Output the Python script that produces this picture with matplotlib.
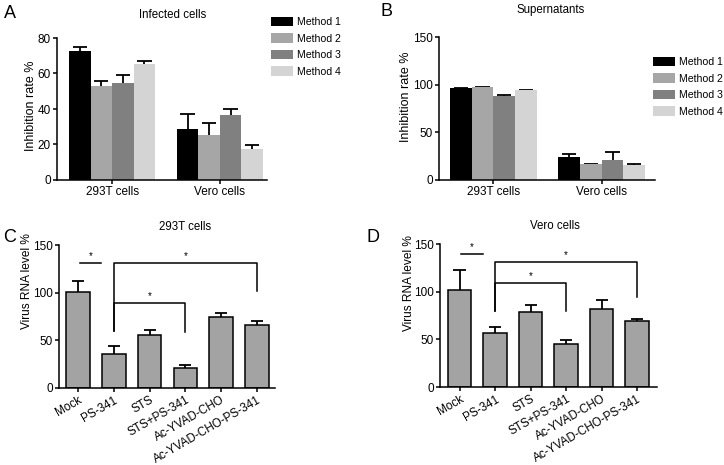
import matplotlib
matplotlib.use("Agg")
import matplotlib.pyplot as plt
from matplotlib.transforms import ScaledTranslation
import numpy as np

plt.rcParams['font.family'] = ['Liberation Sans', 'DejaVu Sans']

# ---------------- data ----------------
groups = ["293T cells", "Vero cells"]
methods = ["Method 1", "Method 2", "Method 3", "Method 4"]
method_colors = ["#000000", "#a6a6a6", "#808080", "#d4d4d4"]

# Panel A: infected cells, mean and upper error (per method, [293T, Vero])
a_mean = [[72.8, 28.7], [53.1, 25.4], [54.5, 36.4], [65.4, 17.3]]
a_err = [[2.3, 8.7], [2.5, 6.5], [4.5, 3.8], [1.5, 2.2]]

# Panel B: supernatants
b_mean = [[96.0, 24.2], [97.2, 16.5], [88.4, 21.4], [94.0, 15.5]]
b_err = [[0.3, 3.5], [0.6, 0.7], [0.5, 7.7], [0.6, 1.2]]

treatments = ["Mock", "PS-341", "STS", "STS+PS-341", "Ac-YVAD-CHO", "Ac-YVAD-CHO-PS-341"]
c_mean = [100.2, 35.6, 55.4, 21.0, 75.0, 66.2]
c_err = [12.3, 8.6, 5.9, 3.2, 3.5, 3.9]
d_mean = [101.6, 56.8, 78.5, 44.9, 82.0, 69.0]
d_err = [20.7, 6.3, 7.7, 4.9, 9.1, 2.5]

# significance annotations: (i, j, bar height, left leg bottom, right leg bottom)
c_sig_short = (0, 1, 131.5)
c_sig_brackets = [(1, 5, 131.5, 59.6, 102.0), (1, 3, 89.4, 59.6, 58.9)]
d_sig_short = (0, 1, 139.5)
d_sig_brackets = [(1, 5, 131.1, 79.6, 94.6), (1, 3, 109.4, 79.6, 79.9)]

# ---------------- figure ----------------
W, H = 724, 465
fig = plt.figure(figsize=(W / 100, H / 100), dpi=100)

def px_axes(l, t, r, b):
    return fig.add_axes([l / W, 1 - b / H, (r - l) / W, (b - t) / H])

LW = 1.1
TICK_FS = 8.5
TITLE_FS = 8.3
LEG_FS = 7.6

def style(ax):
    for s in ["top", "right"]:
        ax.spines[s].set_visible(False)
    for s in ["left", "bottom"]:
        ax.spines[s].set_linewidth(LW)
    ax.tick_params(width=LW, length=3, labelsize=TICK_FS, pad=1.5, colors="black")

def upper_err(ax, x, top, err, cw, lw=1.3):
    x = np.asarray(x, float)
    top = np.asarray(top, float)
    err = np.asarray(err, float)
    ax.vlines(x, top, top + err, color="black", lw=lw, zorder=1)
    ax.hlines(top + err, x - cw, x + cw, color="black", lw=lw, zorder=1)

def grouped(ax, means, errs, ylim, yticks, xlim, ylab_xy):
    base = np.array([0, 5])
    for k in range(len(methods)):
        x = base + k
        ax.bar(x, means[k], width=1.0, color=method_colors[k], edgecolor="none",
               label=methods[k], zorder=2)
        upper_err(ax, x, means[k], errs[k], 0.33)
    ax.set_xlim(*xlim)
    ax.set_ylim(*ylim)
    ax.set_yticks(yticks)
    ax.set_xticks(base + 1.5)
    ax.set_xticklabels(groups, fontsize=TICK_FS)
    ax.set_ylabel("Inhibition rate %", fontsize=9.0, va="center")
    ax.yaxis.set_label_coords(*ylab_xy)
    style(ax)

def legend(ax, x, y):
    ax.legend(loc="upper left", bbox_to_anchor=(x / W, 1 - y / H), bbox_transform=fig.transFigure,
              frameon=False, fontsize=LEG_FS, handlelength=2.1, handleheight=1.0, handletextpad=0.35,
              labelspacing=0.58, borderpad=0, borderaxespad=0)

# Panel A
axA = px_axes(57, 38, 267, 180)
grouped(axA, a_mean, a_err, (0, 80), [0, 20, 40, 60, 80], (-1.06, 8.69), (-0.125, 0.525))
legend(axA, 271, 17)
fig.text(172.5 / W, 1 - 15 / H, "Infected cells", fontsize=TITLE_FS, ha="center", va="center")
fig.text(4 / W, 1 - 14 / H, "A", fontsize=13, ha="left", va="center")

# Panel B
axB = px_axes(439, 37, 655, 180)
grouped(axB, b_mean, b_err, (0, 150), [0, 50, 100, 150], (-1.01, 8.96), (-0.152, 0.584))
legend(axB, 653, 57)
fig.text(551 / W, 1 - 10 / H, "Supernatants", fontsize=TITLE_FS, ha="center", va="center")
fig.text(381 / W, 1 - 12 / H, "B", fontsize=13, ha="left", va="center")

def treat_panel(ax, means, errs, short, brackets, xlim, ylab_xy):
    x = np.arange(len(treatments))
    ax.bar(x, means, width=0.66, color="#a3a3a3", edgecolor="black", linewidth=1.1, zorder=2)
    upper_err(ax, x, means, errs, 0.17)
    ax.set_xlim(*xlim)
    ax.set_ylim(0, 150)
    ax.set_yticks([0, 50, 100, 150])
    ax.set_xticks(x)
    labels = ax.set_xticklabels(treatments, rotation=30, ha="right", va="top",
                                rotation_mode="anchor", fontsize=TICK_FS)
    for lab in labels:
        lab.set_transform(lab.get_transform() + ScaledTranslation(16 / 100, 3 / 100, fig.dpi_scale_trans))
    ax.set_ylabel("Virus RNA level %", fontsize=8.6, va="center")
    ax.yaxis.set_label_coords(*ylab_xy)
    style(ax)
    # short line
    i, j, h = short
    ax.plot([i + 0.05, j - 0.35], [h, h], color="black", lw=1.1, clip_on=False)
    ax.text((i + 0.05 + j - 0.35) / 2, h + 2, "*", ha="center", va="bottom", fontsize=7)
    for (i, j, h, lb, rb) in brackets:
        ax.plot([i, i, j, j], [lb, h, h, rb], color="black", lw=1.1, clip_on=False)
        ax.text((i + j) / 2, h + 2, "*", ha="center", va="bottom", fontsize=7)

axC = px_axes(59, 245, 275, 388)
treat_panel(axC, c_mean, c_err, c_sig_short, c_sig_brackets, (-0.54, 5.51), (-0.148, 0.75))
fig.text(185 / W, 1 - 227 / H, "293T cells", fontsize=TITLE_FS, ha="center", va="center")
fig.text(3 / W, 1 - 237 / H, "C", fontsize=13, ha="left", va="center")

axD = px_axes(440, 244, 657, 387)
treat_panel(axD, d_mean, d_err, d_sig_short, d_sig_brackets, (-0.55, 5.56), (-0.145, 0.73))
fig.text(555 / W, 1 - 226 / H, "Vero cells", fontsize=TITLE_FS, ha="center", va="center")
fig.text(366 / W, 1 - 237 / H, "D", fontsize=13, ha="left", va="center")

fig.savefig("out.png", dpi=100)
